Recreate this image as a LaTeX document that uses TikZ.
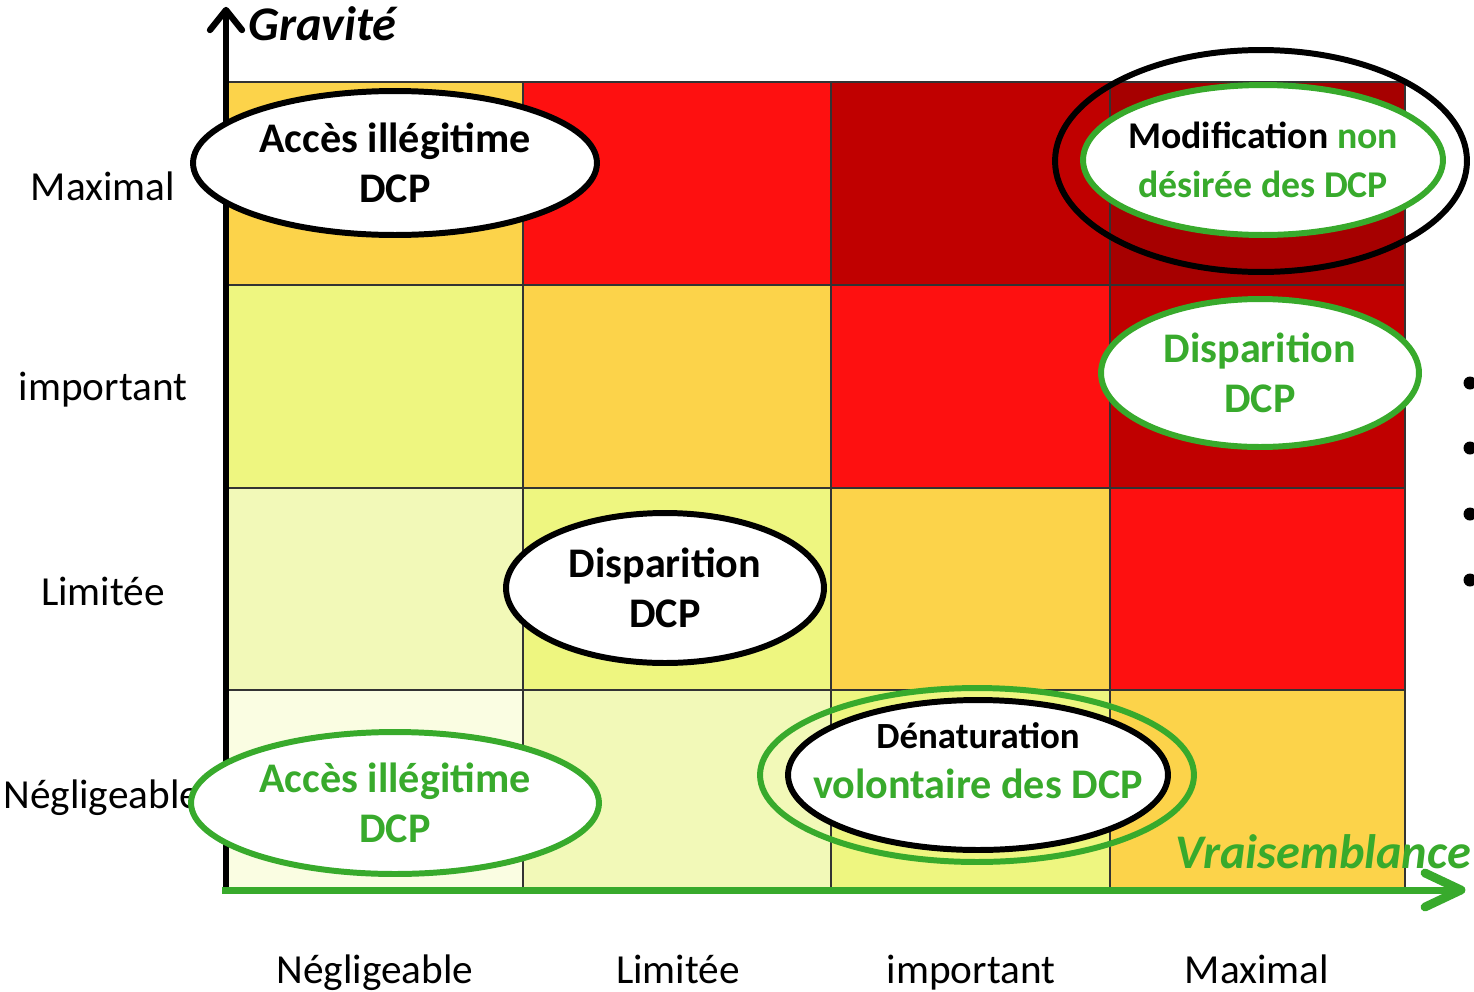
\documentclass[tikz,border=0pt]{standalone}
\usepackage{fontspec}
\setmainfont{Carlito}
\usetikzlibrary{shapes.geometric}

\definecolor{risk0}{RGB}{250,253,226}
\definecolor{risk1}{RGB}{242,249,184}
\definecolor{risk2}{RGB}{238,246,128}
\definecolor{risk3}{RGB}{252,211,74}
\definecolor{risk4}{RGB}{254,16,16}
\definecolor{risk5}{RGB}{192,0,0}
\definecolor{risk6}{RGB}{166,0,0}
\definecolor{riskgreen}{RGB}{56,170,44}

\tikzset{
	cell/.style = {draw=black!80, line width=0.6pt},
	ring/.style = {ellipse, line width=3.4pt, inner sep=0pt},
	blackring/.style = {ring, draw=black},
	greenring/.style = {ring, draw=riskgreen},
	ringtext/.style = {align=center, inner sep=0pt, font=\fontsize{24}{28.5}\selectfont\bfseries},
	scalelabel/.style = {anchor=base, inner sep=0pt, font=\fontsize{23.5}{28}\selectfont},
	axislabel/.style = {inner sep=0pt, font=\fontsize{27.5}{32}\selectfont\bfseries\itshape},
	barb/.style = {line cap=round, line join=round}
}

\begin{document}
\begin{tikzpicture}[x=0.02cm, y=-0.02cm]
			%\draw[help lines] (0,0) grid[step=100] (1474,991);
			\useasboundingbox (0,0) rectangle (1474,991);
			
			% Maximal
			\path[cell, fill=risk3] (228,82) rectangle (523,285);
			\path[cell, fill=risk4] (523,82) rectangle (831,285);
			\path[cell, fill=risk5] (831,82) rectangle (1110,285);
			\path[cell, fill=risk6] (1110,82) rectangle (1405,285);
			% important
			\path[cell, fill=risk2] (228,285) rectangle (523,488);
			\path[cell, fill=risk3] (523,285) rectangle (831,488);
			\path[cell, fill=risk4] (831,285) rectangle (1110,488);
			\path[cell, fill=risk5] (1110,285) rectangle (1405,488);
			% Limitee
			\path[cell, fill=risk1] (228,488) rectangle (523,690);
			\path[cell, fill=risk2] (523,488) rectangle (831,690);
			\path[cell, fill=risk3] (831,488) rectangle (1110,690);
			\path[cell, fill=risk4] (1110,488) rectangle (1405,690);
			% Negligeable
			\path[cell, fill=risk0] (228,690) rectangle (523,890);
			\path[cell, fill=risk1] (523,690) rectangle (831,890);
			\path[cell, fill=risk2] (831,690) rectangle (1110,890);
			\path[cell, fill=risk3] (1110,690) rectangle (1405,890);
			
			\node[scalelabel] (gMax) at (103,200) {Maximal};
			\node[scalelabel] (gImp) at (103,400) {important};
			\node[scalelabel] (gLim) at (103,605) {Limitée};
			\node[scalelabel, anchor=base west] (gNeg) at (3,808) {Négligeable};
			
			\node[scalelabel] (vNeg) at (375,983) {Négligeable};
			\node[scalelabel] (vLim) at (678,983) {Limitée};
			\node[scalelabel] (vImp) at (971,983) {important};
			\node[scalelabel] (vMax) at (1257,983) {Maximal};
			
			\coordinate (origin) at (226,890);
			\coordinate (gtop) at (226,10);
			\coordinate (vend) at (1461,890);
			
			% axes
			\draw[line width=3pt] (origin) -- (gtop);
			\draw[barb, line width=3.6pt] ([shift={(-16,20)}]gtop) -- (gtop) -- ([shift={(16,20)}]gtop);
			\draw[riskgreen, line width=4pt] ([xshift=-2pt]origin) -- (vend);
			\draw[barb, riskgreen, line width=5pt] ([shift={(-36,-17)}]vend) -- (vend) -- ([shift={(-36,17)}]vend);
			
			\node[axislabel, anchor=base west] (gravite) at (248,40) {Gravité};
			
			% ellipses
			\node[blackring, fill=white, minimum width=8.08cm, minimum height=2.88cm] (acc1) at (395,163) {};
			\node[ringtext] (acc1txt) at (acc1) {Accès illégitime\\DCP};
			
			\node[blackring, minimum width=8.24cm, minimum height=4.44cm] (modifOut) at (1261,161) {};
			\node[greenring, fill=white, minimum width=7.2cm, minimum height=3.0cm] (modif) at (1263,160) {};
			\node[ringtext, font=\fontsize{21.5}{28}\selectfont\bfseries] (modiftxt) at (modif) {Modification \textcolor{riskgreen}{non}\\\textcolor{riskgreen}{désirée des DCP}};
			
			\node[greenring, fill=white, minimum width=6.36cm, minimum height=2.96cm] (disp1) at (1260,373) {};
			\node[ringtext, riskgreen] (disp1txt) at (disp1) {Disparition\\DCP};
			
			\node[blackring, fill=white, minimum width=6.36cm, minimum height=3.0cm] (disp2) at (665,588) {};
			\node[ringtext] (disp2txt) at (disp2) {Disparition\\DCP};
			
			\node[greenring, minimum width=8.68cm, minimum height=3.48cm] (denatOut) at (977,775) {};
			\node[blackring, fill=white, minimum width=7.6cm, minimum height=3.0cm] (denat) at (978,775) {};
			\node[ringtext] (denattxt) at ([yshift=8pt]denat.center) {{\fontsize{21}{28}\selectfont Dénaturation}\\\textcolor{riskgreen}{volontaire des DCP}};
			
			\node[greenring, fill=white, minimum width=8.16cm, minimum height=2.84cm] (acc2) at (395,803) {};
			\node[ringtext, riskgreen] (acc2txt) at (acc2) {Accès illégitime\\DCP};
			
			\node[axislabel, riskgreen, anchor=base east] (vraisemblance) at (1471,868) {Vraisemblance};
			
			\fill (1470,383) circle[radius=6.5];
			\fill (1470,448) circle[radius=6.5];
			\fill (1470,514) circle[radius=6.5];
			\fill (1470,580) circle[radius=6.5];
		\end{tikzpicture}
\end{document}
